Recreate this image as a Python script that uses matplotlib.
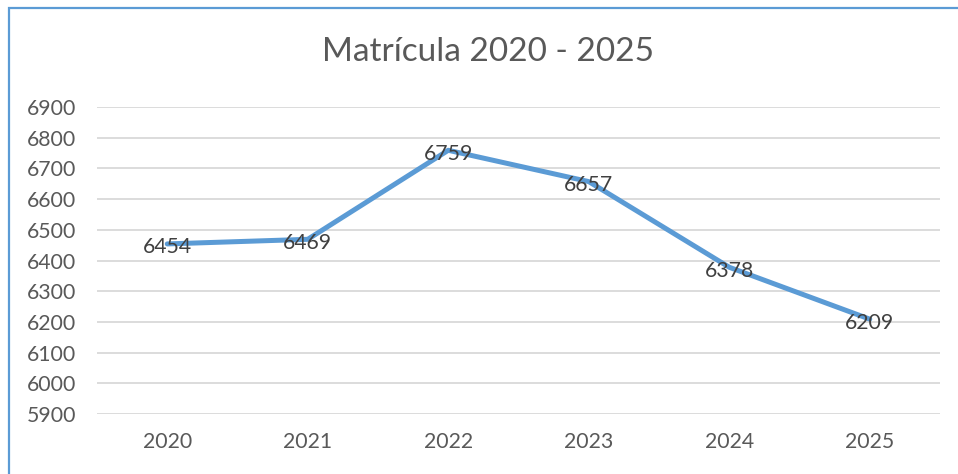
import matplotlib
matplotlib.use("Agg")
import matplotlib.pyplot as plt
from matplotlib.patches import Rectangle

years = ["2020", "2021", "2022", "2023", "2024", "2025"]
enrollment = [6454, 6469, 6759, 6657, 6378, 6209]
yticks = [5900, 6000, 6100, 6200, 6300, 6400, 6500, 6600, 6700, 6800, 6900]
title = "Matrícula 2020 - 2025"

W, H = 958, 474
fig = plt.figure(figsize=(W / 100, H / 100), dpi=100)
plt.rcParams['font.family'] = ['Lato', 'DejaVu Sans']
txt = '#595959'

ax = fig.add_axes([97 / W, 1 - 414 / H, (940 - 97) / W, (414 - 107) / H])
x = list(range(len(years)))
ax.plot(x, enrollment, color='#5B9BD5', lw=3.6, solid_capstyle='round', solid_joinstyle='round', zorder=3)
for xi, v in zip(x, enrollment):
    ax.annotate(str(v), (xi, v), xytext=(0, -2.5), textcoords='offset points',
                ha='center', va='center', fontsize=15.3, color='#404040', zorder=4)

ax.set_xlim(-0.5, len(years) - 0.5)
ax.set_ylim(yticks[0], yticks[-1])
ax.set_yticks(yticks)
ax.set_xticks(x)
ax.set_xticklabels(years)
ax.grid(axis='y', color='#D9D9D9', lw=1.3, zorder=0)
ax.set_axisbelow(True)
for s in ax.spines.values():
    s.set_visible(False)
ax.tick_params(axis='both', length=0, labelsize=15.3, colors=txt)
ax.tick_params(axis='x', pad=13)
for lab in ax.get_yticklabels():
    lab.set_horizontalalignment('left')
ax.yaxis.set_tick_params(pad=(97 - 27) * 0.72)

fig.text(488 / W, 1 - 52 / H, title, ha='center', va='center', fontsize=24, color=txt)

fig.patches.append(Rectangle((8.5 / W, -0.1), 1.2, 1 - 8.5 / H + 0.1, transform=fig.transFigure,
                             fill=False, edgecolor='#5B9BD5', lw=1.6, zorder=10))

fig.savefig('out.png', dpi=100)
